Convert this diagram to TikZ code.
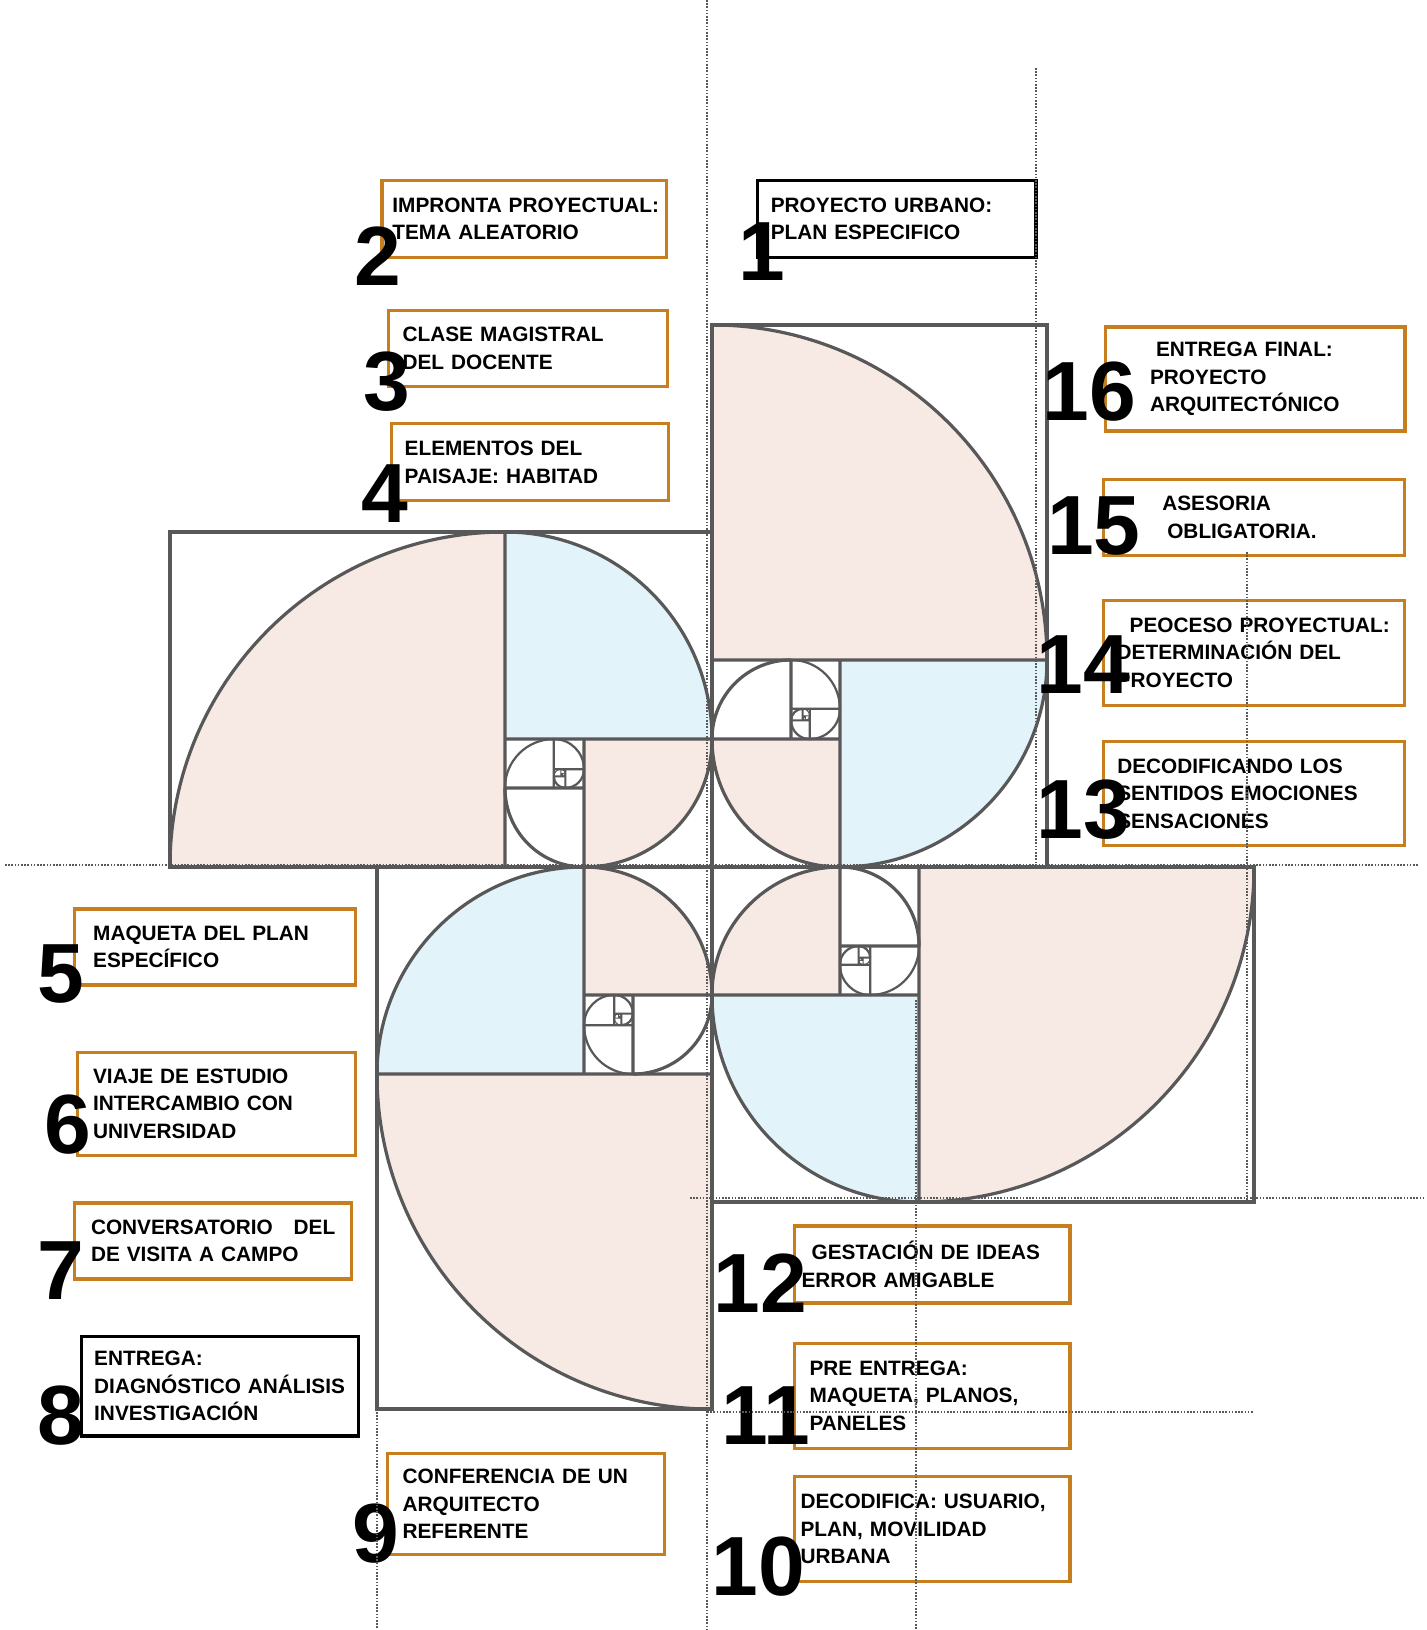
\documentclass[tikz,border=0pt]{standalone}
\usepackage{fontspec}
\setmainfont{Liberation Sans}
\usepackage{tikz}
\usetikzlibrary{positioning}

\definecolor{spiralpink}{RGB}{247,234,228}
\definecolor{spiralblue}{RGB}{227,243,250}
\definecolor{spiralline}{RGB}{88,88,88}
\definecolor{boxorange}{RGB}{198,126,30}

\tikzstyle{stage} = [rectangle, draw=boxorange, line width=1.6pt, align=left,
                     anchor=north west, font=\fontsize{10.4}{13.8}\selectfont\bfseries]
\tikzstyle{delivery} = [stage, draw=black]
\tikzstyle{stepnum} = [anchor=base, inner sep=0pt, font=\fontsize{42}{42}\selectfont\bfseries]
\tikzstyle{sqedge} = [spiralline, line width=1.6pt]
\tikzstyle{guide} = [draw=black!65, line width=0.8pt, dash pattern=on 0.8pt off 0.8pt]

% one golden spiral, big square on the left, corner at the origin
\newcommand{\spiralfill}{%
  \fill[spiralpink] (-207.04,0) -- (-542.04,0) arc[start angle=180, end angle=90, radius=335] -- cycle;
  \fill[spiralblue] (-207.04,127.96) -- (-207.04,335) arc[start angle=90, end angle=0, radius=207.04] -- cycle;
  \fill[spiralpink] (-127.96,127.96) -- (0,127.96) arc[start angle=0, end angle=-90, radius=127.96] -- cycle;
}
\newcommand{\spiralcycle}{%
  \draw (-542.04,0) rectangle (0,335);
  \draw (-207.04,0) -- (-207.04,335) (-542.04,0) arc[start angle=180, end angle=90, radius=335];
  \draw (-207.04,127.96) -- (0,127.96) (-207.04,335) arc[start angle=90, end angle=0, radius=207.04];
  \draw (-127.96,0) -- (-127.96,127.96) (0,127.96) arc[start angle=0, end angle=-90, radius=127.96];
  \draw (-207.04,79.08) -- (-127.96,79.08) (-127.96,0) arc[start angle=-90, end angle=-180, radius=79.08];
}
\newcommand{\spiraledge}{%
  \begin{scope}[sqedge]
    \spiralcycle
    \begin{scope}[shift={(-127.96,79.08)}, scale=0.1459, line width=1.1pt]
      \spiralcycle
      \begin{scope}[shift={(-127.96,79.08)}, scale=0.1459, line width=0.5pt]
        \spiralcycle
      \end{scope}
    \end{scope}
  \end{scope}
}

\begin{document}
\begin{tikzpicture}[x=0.5pt, y=0.5pt]
    \fill[white] (0,0) rectangle (1427,-1630);
    \useasboundingbox (0,0) rectangle (1427,-1630);

    % four spirals turning round the centre
    \foreach \ang in {0,-90,-180,-270} {
      \begin{scope}[shift={(712,-867)}, rotate=\ang]
        \spiralfill
      \end{scope}
    }
    \foreach \ang in {0,-90,-180,-270} {
      \begin{scope}[shift={(712,-867)}, rotate=\ang]
        \spiraledge
      \end{scope}
    }

    % stages
    \node [delivery, text width=125.8pt, inner xsep=6.8pt, minimum height=38.5pt] (plan) at (755.6,-178.8) {PROYECTO URBANO:\\PLAN ESPECIFICO};
    \node [stage, text width=132pt, inner xsep=5.2pt, minimum height=38.5pt] (impronta) at (380.4,-178.8) {\mbox{IMPRONTA PROYECTUAL:}\\TEMA ALEATORIO};
    \node [stage, text width=125.4pt, inner xsep=7.2pt, minimum height=37.9pt] (clase) at (386.6,-308.7) {CLASE MAGISTRAL\\DEL DOCENTE};
    \node [stage, text width=125pt, inner xsep=6.7pt, minimum height=38.5pt] (paisaje) at (389.7,-422) {ELEMENTOS DEL\\PAISAJE: HABITAD};
    \node [stage, text width=121.6pt, inner xsep=9.4pt, minimum height=38pt] (maqueta) at (72.8,-907.3) {MAQUETA DEL PLAN\\ESPECÍFICO};
    \node [stage, text width=123.2pt, inner xsep=7.8pt, minimum height=51.5pt] (viaje) at (75.9,-1050.7) {VIAJE DE ESTUDIO\\INTERCAMBIO CON\\UNIVERSIDAD};
    \node [stage, text width=122.1pt, inner xsep=8.3pt, minimum height=38pt] (conversa) at (72.8,-1201.4) {\mbox{CONVERSATORIO~~~DEL}\\DE VISITA A CAMPO};
    \node [delivery, text width=125.8pt, inner xsep=6.3pt, minimum height=49.9pt] (diagnostico) at (80,-1334.5) {ENTREGA:\\\mbox{DIAGNÓSTICO ANÁLISIS}\\INVESTIGACIÓN};
    \node [stage, text width=123.4pt, inner xsep=7.7pt, minimum height=50.4pt] (conferencia) at (385.6,-1451.9) {CONFERENCIA DE UN\\ARQUITECTO\\REFERENTE};
    \node [stage, text width=131.7pt, inner xsep=3pt, minimum height=52.5pt] (decodifica) at (793,-1474.8) {DECODIFICA: USUARIO,\\PLAN, MOVILIDAD\\URBANA};
    \node [stage, text width=122.7pt, inner xsep=7.5pt, minimum height=52.5pt] (preentrega) at (793,-1341.7) {PRE ENTREGA:\\MAQUETA, PLANOS,\\PANELES};
    \node [stage, text width=130.7pt, inner xsep=3.5pt, minimum height=38.5pt] (gestacion) at (793,-1224.3) {\hspace*{5pt}GESTACIÓN DE IDEAS\\ERROR AMIGABLE};
    \node [stage, text width=136.7pt, inner xsep=7pt, minimum height=52pt] (sentidos) at (1101.7,-740) {DECODIFICANDO LOS\\SENTIDOS EMOCIONES\\SENSACIONES};
    \node [stage, text width=137.2pt, inner xsep=6.7pt, minimum height=52.5pt] (proceso) at (1101.7,-598.6) {\hspace*{6.5pt}PEOCESO PROYECTUAL:\\DETERMINACIÓN DEL\\PROYECTO};
    \node [stage, text width=91.7pt, inner xsep=29.5pt, minimum height=37.9pt] (asesoria) at (1101.7,-478.1) {ASESORIA\\\hspace*{2.5pt}OBLIGATORIA.};
    \node [stage, text width=105pt, inner xsep=22.4pt, minimum height=52pt] (final) at (1103.7,-325.3) {\hspace*{3pt}ENTREGA FINAL:\\PROYECTO\\ARQUITECTÓNICO};

    % step numbers
    \node [stepnum] (num1) at (762.3,-280.6) {1};
    \node [stepnum] (num2) at (378.3,-285.8) {2};
    \node [stepnum] (num3) at (386.6,-410.5) {3};
    \node [stepnum] (num4) at (384.5,-522.8) {4};
    \node [stepnum] (num5) at (61.3,-1002.9) {5};
    \node [stepnum] (num6) at (67.6,-1153.6) {6};
    \node [stepnum] (num7) at (61.3,-1299) {7};
    \node [stepnum] (num8) at (61.3,-1444.6) {8};
    \node [stepnum] (num9) at (376.2,-1562) {9};
    \node [stepnum] (num10) at (758.1,-1595.3) {10};
    \node [stepnum] (num11) at (765.4,-1444.6) {11};
    \node [stepnum] (num12) at (760.1,-1312.6) {12};
    \node [stepnum] (num13) at (1083.3,-838.7) {13};
    \node [stepnum] (num14) at (1083.3,-693.2) {14};
    \node [stepnum] (num15) at (1093.8,-554) {15};
    \node [stepnum] (num16) at (1089.6,-420.9) {16};

    % dotted guide lines
    \draw [guide] (707,0) -- (707,-1630);
    \draw [guide] (1036,-68) -- (1036,-868);
    \draw [guide] (1247,-552) -- (1247,-1200);
    \draw [guide] (916,-1000) -- (916,-1630);
    \draw [guide] (377,-1172) -- (377,-1630);
    \draw [guide] (5,-865) -- (1419,-865);
    \draw [guide] (690,-1198) -- (1424,-1198);
    \draw [guide] (707,-1412) -- (1253,-1412);
\end{tikzpicture}
\end{document}
